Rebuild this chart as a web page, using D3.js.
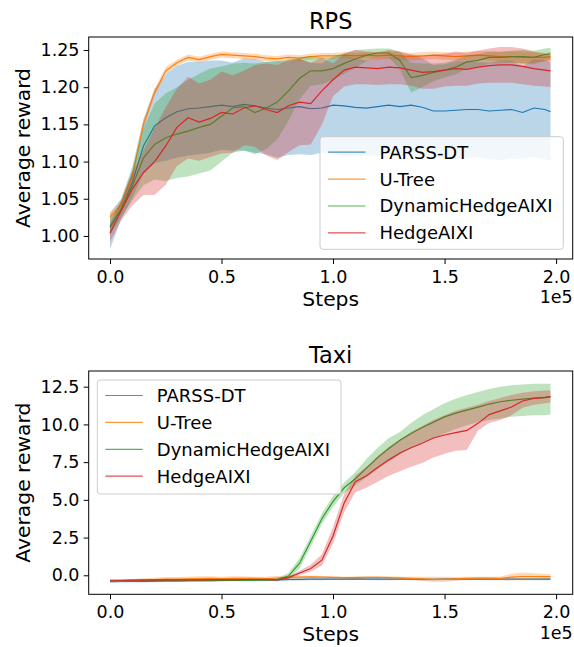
<!DOCTYPE html>
<html>
<head>
<meta charset="utf-8">
<script src="https://cdn.jsdelivr.net/npm/d3@7"></script>
<style>
  body { margin: 0; background: #fff; }
  text { font-family: "DejaVu Sans", sans-serif; fill: #000; }
</style>
</head>
<body>
<div id="chart"></div>
<script>
// steps at which the runs were logged
var steps = [0, 5000, 10000, 15000, 20000, 25000, 30000, 35000, 40000, 45000, 50000, 55000, 60000,
  65000, 70000, 75000, 80000, 85000, 90000, 95000, 100000, 105000, 110000, 115000, 120000, 125000, 130000,
  135000, 140000, 145000, 150000, 155000, 160000, 165000, 170000, 175000, 180000, 185000, 190000, 195000, 197500];

var seriesNames = ["PARSS-DT", "U-Tree", "DynamicHedgeAIXI", "HedgeAIXI"];
var colors = ["#1f77b4", "#ff7f0e", "#2ca02c", "#d62728"];

var stepTicks = [0, 50000, 100000, 150000, 200000];
var rpsTicks = [1.00, 1.05, 1.10, 1.15, 1.20, 1.25];
var taxiTicks = [0, 2.5, 5, 7.5, 10, 12.5];

// ---- RPS ----
var rpsParssMean = [1.013, 1.036, 1.072, 1.121, 1.148, 1.159, 1.167, 1.171, 1.172, 1.174, 1.176, 1.174, 1.177,
  1.175, 1.172, 1.170, 1.172, 1.174, 1.171, 1.172, 1.176, 1.175, 1.173, 1.172, 1.174, 1.176, 1.174,
  1.176, 1.173, 1.168, 1.168, 1.169, 1.170, 1.170, 1.168, 1.169, 1.170, 1.166, 1.172, 1.170, 1.167];
var rpsParssHi = [1.030, 1.050, 1.093, 1.157, 1.198, 1.217, 1.229, 1.234, 1.234, 1.236, 1.236, 1.233, 1.239,
  1.238, 1.234, 1.235, 1.235, 1.238, 1.233, 1.232, 1.242, 1.243, 1.239, 1.236, 1.240, 1.241, 1.241,
  1.244, 1.239, 1.230, 1.231, 1.235, 1.235, 1.234, 1.233, 1.236, 1.236, 1.228, 1.238, 1.237, 1.233];
var rpsParssLo = [0.982, 1.022, 1.051, 1.085, 1.098, 1.101, 1.105, 1.108, 1.110, 1.112, 1.116, 1.115, 1.115,
  1.112, 1.110, 1.105, 1.109, 1.110, 1.109, 1.112, 1.110, 1.107, 1.107, 1.108, 1.108, 1.111, 1.107,
  1.108, 1.107, 1.106, 1.105, 1.103, 1.105, 1.106, 1.103, 1.102, 1.104, 1.104, 1.106, 1.103, 1.101];

var rpsUtreeMean = [1.025, 1.042, 1.081, 1.150, 1.193, 1.222, 1.233, 1.240, 1.237, 1.241, 1.244, 1.243, 1.242,
  1.241, 1.239, 1.238, 1.240, 1.239, 1.241, 1.242, 1.242, 1.243, 1.242, 1.243, 1.242, 1.243, 1.242,
  1.241, 1.242, 1.243, 1.242, 1.241, 1.242, 1.243, 1.242, 1.241, 1.241, 1.240, 1.240, 1.240, 1.241];
var rpsUtreeHi = [1.032, 1.048, 1.087, 1.156, 1.198, 1.227, 1.237, 1.244, 1.241, 1.245, 1.248, 1.247, 1.246,
  1.245, 1.243, 1.242, 1.244, 1.243, 1.245, 1.246, 1.246, 1.247, 1.246, 1.247, 1.247, 1.248, 1.247,
  1.246, 1.247, 1.248, 1.247, 1.246, 1.248, 1.249, 1.248, 1.247, 1.248, 1.248, 1.247, 1.246, 1.247];
var rpsUtreeLo = [1.018, 1.036, 1.075, 1.144, 1.188, 1.217, 1.229, 1.236, 1.233, 1.237, 1.240, 1.239, 1.238,
  1.237, 1.235, 1.234, 1.236, 1.235, 1.237, 1.238, 1.238, 1.239, 1.238, 1.239, 1.237, 1.238, 1.237,
  1.236, 1.237, 1.238, 1.237, 1.236, 1.236, 1.237, 1.236, 1.235, 1.234, 1.232, 1.233, 1.234, 1.235];

var rpsDynMean = [1.011, 1.036, 1.067, 1.105, 1.123, 1.132, 1.137, 1.141, 1.146, 1.150, 1.161, 1.172, 1.174,
  1.166, 1.172, 1.180, 1.195, 1.212, 1.222, 1.222, 1.225, 1.232, 1.238, 1.243, 1.246, 1.246, 1.236,
  1.213, 1.216, 1.220, 1.223, 1.227, 1.234, 1.236, 1.240, 1.240, 1.241, 1.241, 1.240, 1.244, 1.245];
var rpsDynHi = [1.021, 1.047, 1.089, 1.145, 1.178, 1.192, 1.200, 1.210, 1.218, 1.225, 1.228, 1.232, 1.233,
  1.232, 1.234, 1.235, 1.237, 1.240, 1.242, 1.240, 1.240, 1.246, 1.250, 1.251, 1.252, 1.252, 1.248,
  1.233, 1.232, 1.232, 1.233, 1.237, 1.243, 1.244, 1.248, 1.248, 1.249, 1.250, 1.249, 1.252, 1.253];
var rpsDynLo = [1.001, 1.025, 1.048, 1.068, 1.076, 1.074, 1.078, 1.080, 1.084, 1.088, 1.100, 1.112, 1.115,
  1.110, 1.117, 1.130, 1.155, 1.184, 1.202, 1.204, 1.210, 1.218, 1.226, 1.235, 1.240, 1.240, 1.224,
  1.193, 1.200, 1.208, 1.213, 1.217, 1.225, 1.228, 1.232, 1.232, 1.233, 1.232, 1.231, 1.236, 1.237];

var rpsHedgeMean = [1.004, 1.034, 1.063, 1.085, 1.100, 1.121, 1.146, 1.159, 1.153, 1.158, 1.166, 1.164, 1.172,
  1.175, 1.170, 1.166, 1.175, 1.180, 1.178, 1.195, 1.210, 1.223, 1.227, 1.226, 1.225, 1.227, 1.226,
  1.223, 1.220, 1.221, 1.223, 1.225, 1.224, 1.227, 1.229, 1.230, 1.230, 1.228, 1.225, 1.223, 1.222];
var rpsHedgeHi = [1.016, 1.047, 1.085, 1.115, 1.145, 1.173, 1.198, 1.214, 1.205, 1.210, 1.221, 1.216, 1.222,
  1.230, 1.232, 1.230, 1.237, 1.238, 1.233, 1.240, 1.232, 1.245, 1.250, 1.248, 1.247, 1.250, 1.248,
  1.244, 1.242, 1.244, 1.245, 1.248, 1.246, 1.249, 1.252, 1.254, 1.254, 1.252, 1.248, 1.245, 1.244];
var rpsHedgeLo = [0.992, 1.021, 1.041, 1.055, 1.055, 1.069, 1.094, 1.104, 1.101, 1.106, 1.111, 1.112, 1.122,
  1.120, 1.108, 1.102, 1.113, 1.122, 1.123, 1.150, 1.188, 1.201, 1.204, 1.204, 1.203, 1.204, 1.204,
  1.202, 1.198, 1.198, 1.201, 1.202, 1.202, 1.205, 1.206, 1.206, 1.206, 1.204, 1.202, 1.201, 1.200];

// ---- Taxi ----
var taxiParssMean = [-0.42, -0.41, -0.40, -0.40, -0.39, -0.38, -0.37, -0.36, -0.36, -0.35, -0.34, -0.33, -0.33, -0.32, -0.31,
  -0.30, -0.28, -0.27, -0.26, -0.26, -0.25, -0.25, -0.24, -0.25, -0.26, -0.26, -0.25,
  -0.26, -0.27, -0.27, -0.26, -0.26, -0.25, -0.25, -0.26, -0.26, -0.25, -0.25, -0.26, -0.26, -0.26];
var taxiParssHi = [-0.36, -0.35, -0.34, -0.34, -0.33, -0.32, -0.31, -0.30, -0.30, -0.29, -0.28, -0.27, -0.27, -0.26, -0.25,
  -0.22, -0.20, -0.21, -0.20, -0.20, -0.19, -0.19, -0.18, -0.19, -0.20, -0.20, -0.19,
  -0.20, -0.21, -0.21, -0.20, -0.20, -0.19, -0.19, -0.20, -0.20, -0.19, -0.19, -0.20, -0.20, -0.20];
var taxiParssLo = [-0.49, -0.48, -0.47, -0.47, -0.46, -0.45, -0.44, -0.43, -0.43, -0.42, -0.41, -0.40, -0.40, -0.39, -0.38,
  -0.40, -0.36, -0.34, -0.33, -0.33, -0.32, -0.32, -0.31, -0.32, -0.33, -0.33, -0.32,
  -0.33, -0.34, -0.34, -0.33, -0.33, -0.32, -0.32, -0.33, -0.33, -0.32, -0.32, -0.33, -0.33, -0.33];

var taxiUtreeMean = [-0.38, -0.36, -0.33, -0.30, -0.28, -0.26, -0.25, -0.24, -0.22, -0.21, -0.22, -0.21, -0.20, -0.21, -0.22,
  -0.18, -0.14, -0.12, -0.11, -0.12, -0.14, -0.16, -0.15, -0.14, -0.13, -0.15, -0.17,
  -0.20, -0.24, -0.27, -0.27, -0.24, -0.20, -0.18, -0.19, -0.20, -0.12, -0.08, -0.08, -0.09, -0.09];
var taxiUtreeHi = [-0.32, -0.29, -0.25, -0.20, -0.16, -0.12, -0.12, -0.09, -0.06, -0.07, -0.09, -0.06, -0.06, -0.09, -0.10,
  -0.04, -0.02, -0.02, -0.02, -0.04, -0.06, -0.09, -0.07, -0.06, -0.06, -0.07, -0.09,
  -0.10, -0.10, -0.09, -0.10, -0.12, -0.10, -0.09, -0.10, -0.08, 0.10, 0.18, 0.14, 0.09, 0.07];
var taxiUtreeLo = [-0.44, -0.43, -0.41, -0.40, -0.40, -0.40, -0.38, -0.39, -0.38, -0.35, -0.35, -0.36, -0.34, -0.33, -0.34,
  -0.32, -0.26, -0.22, -0.20, -0.20, -0.22, -0.23, -0.23, -0.22, -0.20, -0.23, -0.25,
  -0.30, -0.38, -0.45, -0.44, -0.36, -0.30, -0.27, -0.28, -0.32, -0.34, -0.34, -0.30, -0.27, -0.25];

var taxiDynMean = [-0.38, -0.37, -0.37, -0.36, -0.36, -0.35, -0.35, -0.34, -0.34, -0.33, -0.33, -0.32, -0.32, -0.31, -0.31,
  -0.28, -0.05, 0.80, 2.25, 3.75, 4.90, 5.80, 6.40, 7.10, 7.80, 8.40, 8.95,
  9.40, 9.80, 10.15, 10.50, 10.75, 10.95, 11.15, 11.35, 11.50, 11.60, 11.68, 11.74, 11.78, 11.84];
var taxiDynHi = [-0.33, -0.32, -0.32, -0.31, -0.31, -0.30, -0.30, -0.29, -0.29, -0.28, -0.28, -0.27, -0.27, -0.26, -0.26,
  -0.22, 0.15, 1.15, 2.60, 4.10, 5.25, 6.15, 6.85, 7.70, 8.45, 9.10, 9.50,
  10.10, 10.60, 11.00, 11.40, 11.70, 11.95, 12.15, 12.35, 12.50, 12.60, 12.65, 12.70, 12.70, 12.70];
var taxiDynLo = [-0.43, -0.42, -0.42, -0.41, -0.41, -0.40, -0.40, -0.39, -0.39, -0.38, -0.38, -0.37, -0.37, -0.36, -0.36,
  -0.34, -0.25, 0.45, 1.90, 3.40, 4.55, 5.45, 5.95, 6.50, 7.05, 7.55, 8.00,
  8.45, 8.80, 9.10, 9.40, 9.70, 9.95, 10.15, 10.30, 10.40, 10.50, 10.55, 10.60, 10.60, 10.65];

var taxiHedgeMean = [-0.33, -0.33, -0.32, -0.32, -0.31, -0.31, -0.30, -0.30, -0.30, -0.29, -0.29, -0.29, -0.28, -0.28, -0.28,
  -0.30, -0.15, 0.15, 0.45, 1.00, 2.60, 4.80, 6.20, 6.60, 7.15, 7.65, 8.10,
  8.45, 8.75, 9.10, 9.30, 9.45, 9.60, 10.07, 10.65, 10.90, 11.15, 11.55, 11.72, 11.79, 11.84];
var taxiHedgeHi = [-0.28, -0.28, -0.27, -0.27, -0.26, -0.26, -0.25, -0.25, -0.25, -0.24, -0.24, -0.24, -0.23, -0.23, -0.23,
  -0.25, -0.08, 0.30, 0.70, 1.40, 3.20, 5.40, 6.60, 7.20, 7.90, 8.50, 9.00,
  9.50, 9.90, 10.30, 10.60, 10.90, 11.10, 11.30, 11.55, 11.75, 11.95, 12.10, 12.20, 12.25, 12.25];
var taxiHedgeLo = [-0.38, -0.38, -0.37, -0.37, -0.36, -0.36, -0.35, -0.35, -0.35, -0.34, -0.34, -0.34, -0.33, -0.33, -0.33,
  -0.35, -0.22, 0.02, 0.25, 0.65, 2.10, 4.20, 5.50, 5.80, 6.20, 6.60, 6.90,
  7.20, 7.45, 7.80, 8.05, 8.25, 8.30, 9.60, 10.10, 10.30, 10.60, 11.10, 11.30, 11.40, 11.45];

var W = 574, H = 647;
var svg = d3.select("#chart").append("svg")
  .attr("width", W)
  .attr("height", H);

var plotLeft = 88.7, plotRight = 572.7;
var x = d3.scaleLinear().domain([-9550, 207450]).range([plotLeft, plotRight]);

var panels = [
  {
    title: "RPS", top: 37, bottom: 259, yDomain: [0.969, 1.2675], ticks: rpsTicks, fmt: d3.format(".2f"),
    legend: { x: 320, y: 136.7, w: 243.3, h: 112.6 },
    series: [
      { mean: rpsParssMean, lo: rpsParssLo, hi: rpsParssHi },
      { mean: rpsUtreeMean, lo: rpsUtreeLo, hi: rpsUtreeHi },
      { mean: rpsDynMean, lo: rpsDynLo, hi: rpsDynHi },
      { mean: rpsHedgeMean, lo: rpsHedgeLo, hi: rpsHedgeHi }
    ]
  },
  {
    title: "Taxi", top: 371, bottom: 594.3, yDomain: [-1.26, 13.54], ticks: taxiTicks, fmt: d3.format(".1f"),
    legend: { x: 97.3, y: 380, w: 243.7, h: 114 },
    series: [
      { mean: taxiParssMean, lo: taxiParssLo, hi: taxiParssHi },
      { mean: taxiUtreeMean, lo: taxiUtreeLo, hi: taxiUtreeHi },
      { mean: taxiDynMean, lo: taxiDynLo, hi: taxiDynHi },
      { mean: taxiHedgeMean, lo: taxiHedgeLo, hi: taxiHedgeHi }
    ]
  }
];

panels.forEach(drawPanel);

function drawPanel(p) {
  var y = d3.scaleLinear().domain(p.yDomain).range([p.bottom, p.top]);
  var g = svg.append("g");

  // mean line, then the shaded band, one series after the other
  p.series.forEach(function(s, i) {
    var line = d3.line()
      .x((d, j) => x(steps[j]))
      .y(d => y(d));
    var band = d3.area()
      .x((d, j) => x(steps[j]))
      .y0((d, j) => y(s.lo[j]))
      .y1((d, j) => y(s.hi[j]));
    g.append("path")
      .datum(s.mean)
      .attr("d", line)
      .attr("fill", "none")
      .attr("stroke", colors[i])
      .attr("stroke-width", 1.2);
    g.append("path")
      .datum(s.mean)
      .attr("d", band)
      .attr("fill", colors[i])
      .attr("fill-opacity", 0.3);
  });

  var xAxis = d3.axisBottom(x)
    .tickValues(stepTicks)
    .tickFormat(d => (d / 1e5).toFixed(1))
    .tickSize(5)
    .tickPadding(6.5);
  var xg = svg.append("g")
    .attr("transform", `translate(0, ${p.bottom})`)
    .call(xAxis);

  var yAxis = d3.axisLeft(y)
    .tickValues(p.ticks)
    .tickFormat(p.fmt)
    .tickSize(5)
    .tickPadding(4.2);
  var yg = svg.append("g")
    .attr("transform", `translate(${plotLeft}, 0)`)
    .call(yAxis);

  [xg, yg].forEach(function(a) {
    a.select(".domain").remove();
    a.selectAll(".tick line").attr("stroke", "#000").attr("stroke-width", 1);
    a.selectAll(".tick text").attr("font-family", "DejaVu Sans").attr("font-size", 17.5).attr("fill", "#000");
  });

  // frame
  svg.append("rect")
    .attr("x", plotLeft)
    .attr("y", p.top)
    .attr("width", plotRight - plotLeft)
    .attr("height", p.bottom - p.top)
    .attr("fill", "none")
    .attr("stroke", "#000")
    .attr("stroke-width", 1);

  svg.append("text")
    .attr("x", (plotLeft + plotRight) / 2)
    .attr("y", p.top - 8)
    .attr("text-anchor", "middle")
    .attr("font-size", 22.5)
    .text(p.title);

  svg.append("text")
    .attr("x", (plotLeft + plotRight) / 2)
    .attr("y", p.bottom + 47)
    .attr("text-anchor", "middle")
    .attr("font-size", 20.3)
    .text("Steps");

  svg.append("text")
    .attr("x", plotRight)
    .attr("y", p.bottom + 44.3)
    .attr("text-anchor", "end")
    .attr("font-size", 17.5)
    .text("1e5");

  svg.append("text")
    .attr("transform", `translate(29.5, ${(p.top + p.bottom) / 2}) rotate(-90)`)
    .attr("text-anchor", "middle")
    .attr("font-size", 20.3)
    .text("Average reward");

  // legend
  var L = p.legend;
  var lg = svg.append("g").attr("transform", `translate(${L.x}, ${L.y})`);
  lg.append("rect")
    .attr("width", L.w)
    .attr("height", L.h)
    .attr("rx", 3)
    .attr("fill", "#fff")
    .attr("fill-opacity", 0.8)
    .attr("stroke", "#cccccc")
    .attr("stroke-width", 1);
  seriesNames.forEach(function(name, i) {
    var ry = 15.5 + i * 26.9;
    lg.append("line")
      .attr("x1", 8)
      .attr("x2", 45.5)
      .attr("y1", ry)
      .attr("y2", ry)
      .attr("stroke", colors[i])
      .attr("stroke-opacity", 0.8)
      .attr("stroke-width", 1.2);
    lg.append("text")
      .attr("x", 59.5)
      .attr("y", ry + 6.5)
      .attr("font-size", 18)
      .text(name);
  });
}
</script>
</body>
</html>
